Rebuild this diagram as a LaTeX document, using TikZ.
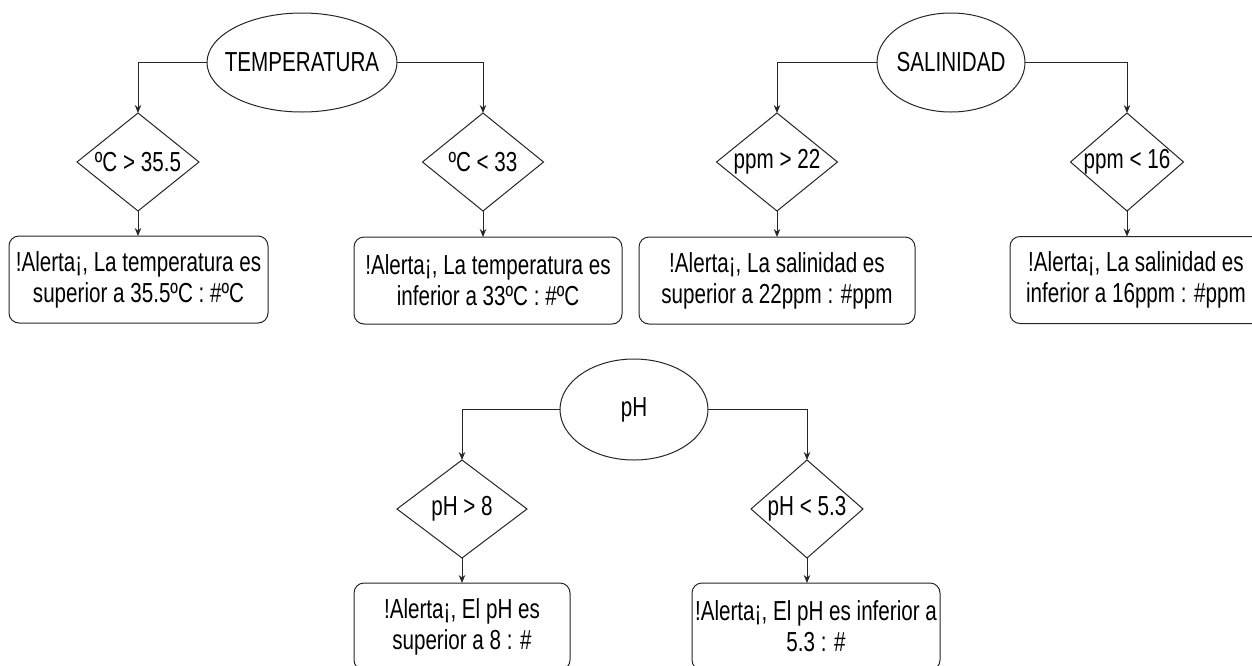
\documentclass[tikz,border=0pt]{standalone}
\usepackage{fontspec}
\setmainfont{Liberation Sans}[FakeStretch=0.75]
\usetikzlibrary{shapes.geometric,arrows.meta}
\begin{document}
\begin{tikzpicture}[x=1pt,y=-1pt,
  font=\fontsize{27.5}{31}\selectfont,
  ln/.style={draw=black!85, line width=1pt},
  arr/.style={ln, -{Stealth[length=8pt,width=6.5pt]}},
  oval/.style={ln, ellipse, outer sep=0pt, inner sep=0pt},
  dec/.style={ln, diamond, outer sep=0pt, inner sep=0pt, minimum height=98pt},
  alert/.style={ln, rectangle, rounded corners=10pt, outer sep=0pt, inner sep=1pt,
    align=center, minimum height=87pt},
  lbl/.style={inner sep=0pt, align=center}
]
\clip (0,0) rectangle (1252,665);
\fill[white] (0,0) rectangle (1252,665);

% ellipses
\node[oval, minimum width=190pt, minimum height=99pt] (T) at (302,62.5) {};
\node[lbl] (Tt) at (T.center) {TEMPERATURA};
\node[oval, minimum width=148pt, minimum height=99pt] (S) at (951,62.5) {};
\node[lbl] (St) at (S.center) {SALINIDAD};
\node[oval, minimum width=148pt, minimum height=101pt] (P) at (634,409.5) {};
\node[lbl] (Pt) at (P.center) {pH};

% diamonds
\node[dec, minimum width=122pt] (D1) at (138,162) {};
\node[lbl] (D1t) at (D1.center) {ºC > 35.5};
\node[dec, minimum width=121pt] (D2) at (483,162) {};
\node[lbl] (D2t) at (D2.center) {ºC < 33};
\node[dec, minimum width=121pt] (D3) at (777,162) {};
\node[lbl] (D3t) at (D3.center) {ppm > 22};
\node[dec, minimum width=113pt] (D4) at (1127,162) {};
\node[lbl] (D4t) at (D4.center) {ppm < 16};
\node[dec, minimum width=130pt] (D5) at (462,509) {};
\node[lbl] (D5t) at (D5.center) {pH > 8};
\node[dec, minimum width=112pt] (D6) at (807,509) {};
\node[lbl] (D6t) at (D6.center) {pH < 5.3};

% alert boxes
\node[alert, minimum width=259pt] (B1) at (138.5,279.5) {!Alerta¡, La temperatura es\\superior a 35.5ºC : \#ºC};
\node[alert, minimum width=268pt] (B2) at (488,280.5) {!Alerta¡, La temperatura es\\inferior a 33ºC : \#ºC};
\node[alert, minimum width=276pt] (B3) at (777,280.5) {!Alerta¡, La salinidad es\\superior a 22ppm : \#ppm};
\node[alert, minimum width=252pt] (B4) at (1136,280) {!Alerta¡, La salinidad es\\inferior a 16ppm : \#ppm};
\node[alert, minimum width=216pt] (B5) at (462,626.5) {!Alerta¡, El pH es\\superior a 8 : \#};
\node[alert, minimum width=248pt] (B6) at (816,626.5) {!Alerta¡, El pH es inferior a\\5.3 : \#};

% connectors
\draw[arr] (T.west) -| (D1.north);
\draw[arr] (T.east) -| (D2.north);
\draw[arr] (S.west) -| (D3.north);
\draw[arr] (S.east) -| (D4.north);
\draw[arr] (P.west) -| (D5.north);
\draw[arr] (P.east) -| (D6.north);

\draw[arr] (D1.south) -- (D1.south |- B1.north);
\draw[arr] (D2.south) -- (D2.south |- B2.north);
\draw[arr] (D3.south) -- (D3.south |- B3.north);
\draw[arr] (D4.south) -- (D4.south |- B4.north);
\draw[arr] (D5.south) -- (D5.south |- B5.north);
\draw[arr] (D6.south) -- (D6.south |- B6.north);
\end{tikzpicture}
\end{document}
